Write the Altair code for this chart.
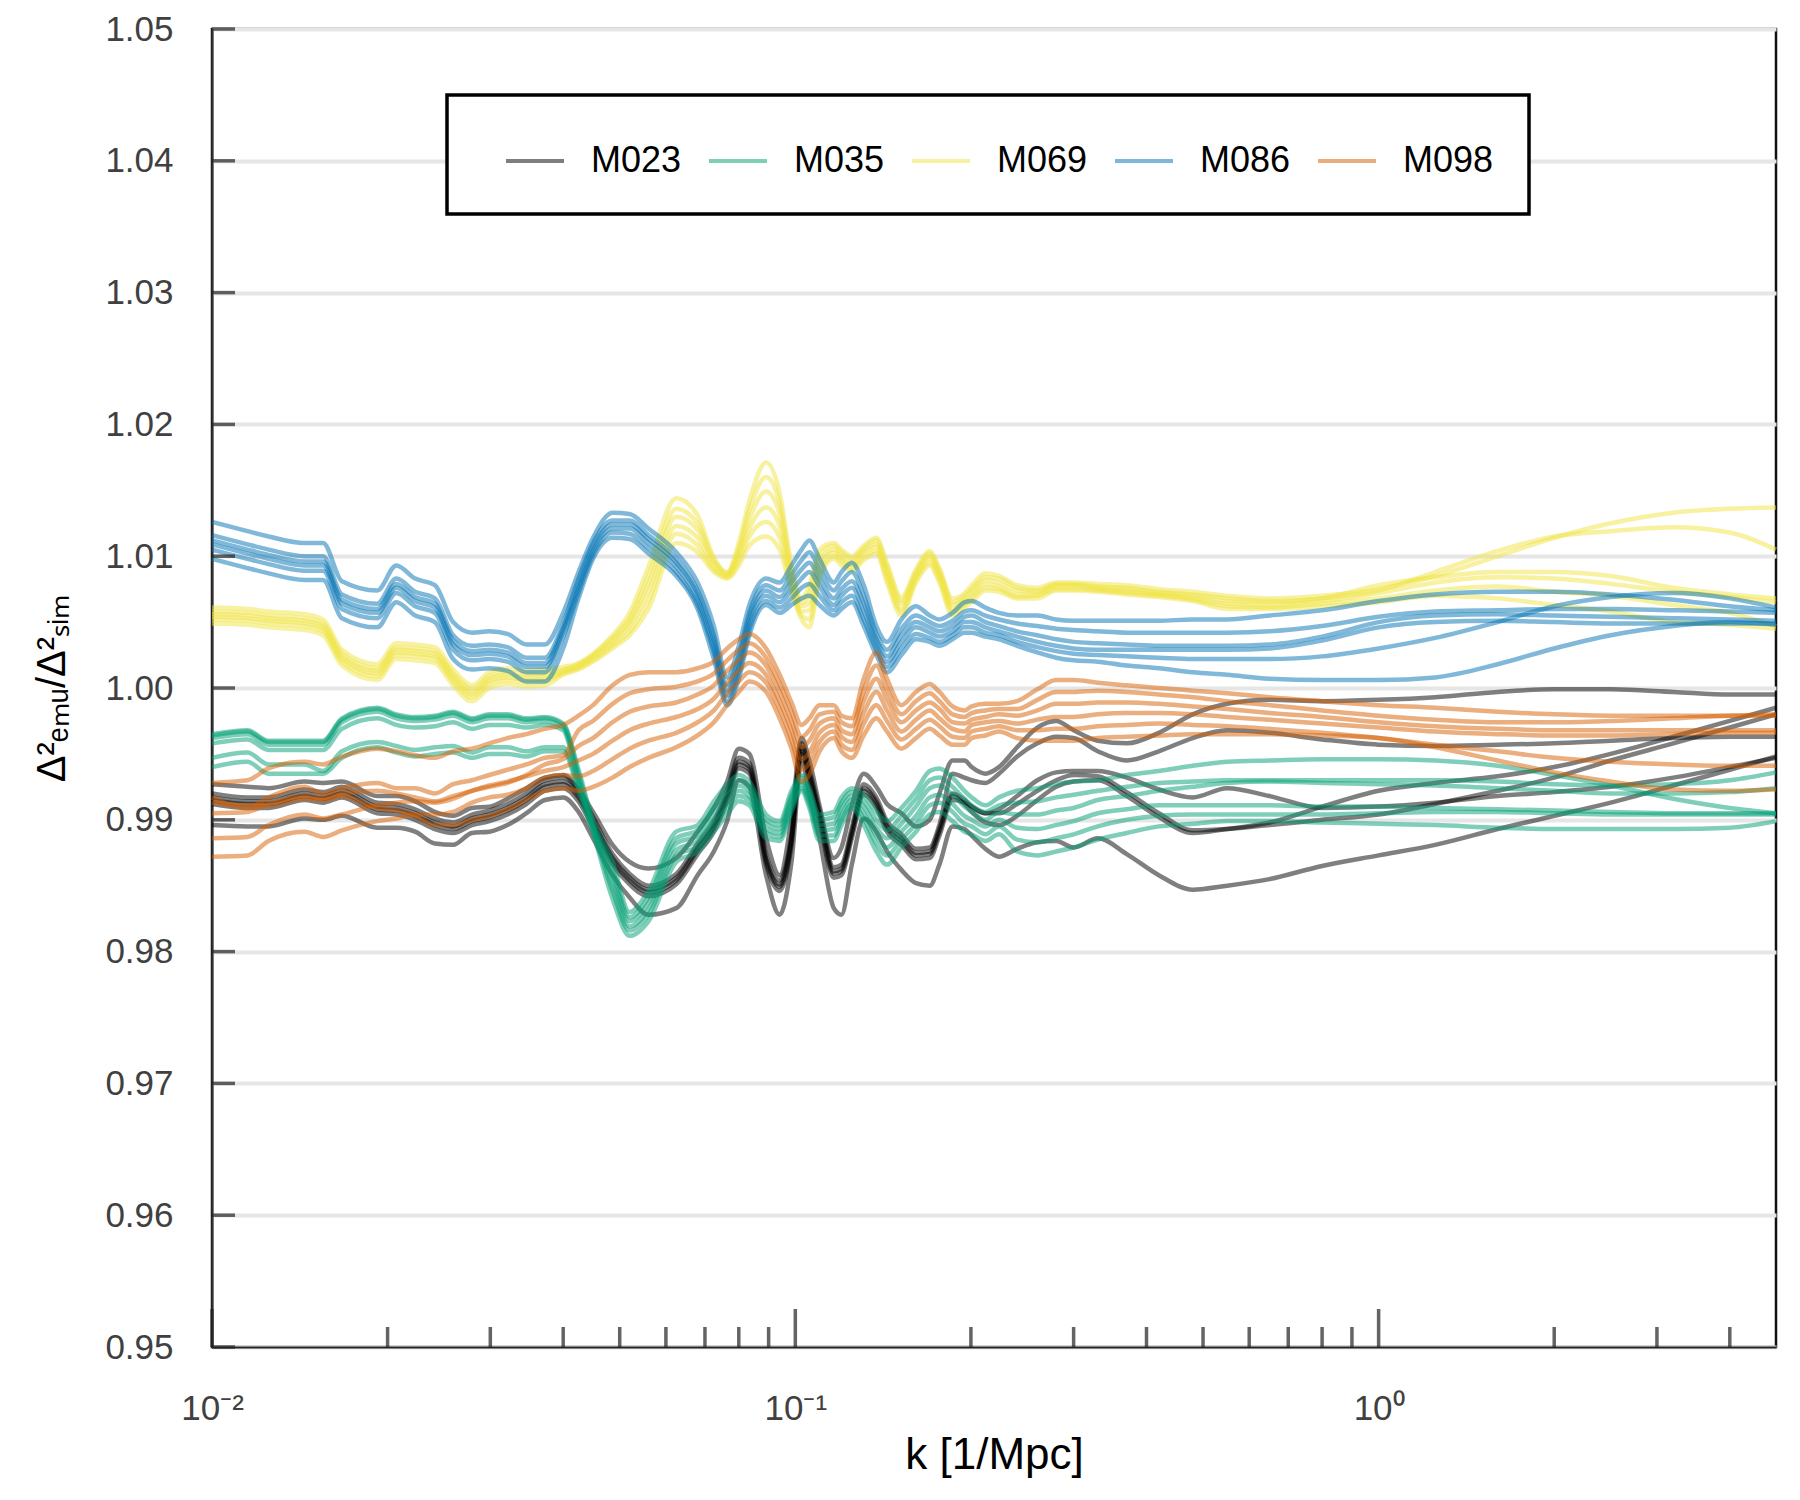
import altair as alt
import pandas as pd

# k grid [1/Mpc]
K = [0.01, 0.0115, 0.0125, 0.0144, 0.0155, 0.0167, 0.0192, 0.0207, 0.0223,
     0.0241, 0.0259, 0.0279, 0.0299, 0.0321, 0.0346, 0.0372, 0.0400,
     0.0425, 0.045, 0.0486, 0.052, 0.056, 0.0625, 0.068, 0.0725, 0.0764,
     0.080, 0.0834, 0.0891, 0.094, 0.0985, 0.1025, 0.1057, 0.110, 0.1164,
     0.120, 0.125, 0.131, 0.1377, 0.1436, 0.152, 0.161, 0.170, 0.1766,
     0.186, 0.195, 0.2006, 0.2117, 0.2234, 0.24, 0.26, 0.28, 0.30,
     0.33, 0.37, 0.42, 0.48, 0.55, 0.65, 0.8, 1.0, 1.25, 1.6, 2.0, 2.5,
     3.2, 4.0, 4.8]

MODELS = ["M023", "M035", "M069", "M086", "M098"]
COLORS = ["#000000", "#009E73", "#F0E442", "#0072B2", "#D55E00"]

# ---------------- M023 ----------------
M023_1 = [0.9927, 0.9925, 0.9924, 0.9929, 0.9928, 0.9929, 0.9918, 0.9918, 0.9914, 0.9906, 0.9903, 0.9909, 0.9910, 0.9916, 0.9924, 0.9932, 0.9934,
          0.9923, 0.9906, 0.9881, 0.9868, 0.9863, 0.9871, 0.9891, 0.9909, 0.9929, 0.9954, 0.9950, 0.9886, 0.9858, 0.9901, 0.9962, 0.9945, 0.9911, 0.9871, 0.9879, 0.9911, 0.9935, 0.9925, 0.9912, 0.9905, 0.9895, 0.9900, 0.9920, 0.9945, 0.9945, 0.9940, 0.9935, 0.9940, 0.9955, 0.9970, 0.9975, 0.9968,
          0.9960, 0.9958, 0.9966, 0.9980, 0.9988, 0.9991, 0.9990, 0.9991, 0.9993, 0.9997, 0.9999, 0.9999, 0.9997, 0.9995, 0.9995]
M023_2 = [0.9920, 0.9917, 0.9917, 0.9923, 0.9921, 0.9925, 0.9913, 0.9912, 0.9908, 0.9901, 0.9898, 0.9904, 0.9907, 0.9912, 0.9920, 0.9930, 0.9932,
          0.9922, 0.9902, 0.9874, 0.9859, 0.9850, 0.9859, 0.9882, 0.9899, 0.9922, 0.9947, 0.9943, 0.9874, 0.9854, 0.9889, 0.9958, 0.9938, 0.9907, 0.9864, 0.9866, 0.9894, 0.9927, 0.9917, 0.9899, 0.9889, 0.9878, 0.9879, 0.9896, 0.9935, 0.9932, 0.9930, 0.9928, 0.9935, 0.9948, 0.9958, 0.9963, 0.9962,
          0.9952, 0.9945, 0.9952, 0.9962, 0.9968, 0.9966, 0.9961, 0.9957, 0.9956, 0.9957, 0.9958, 0.9960, 0.9962, 0.9963, 0.9963]
M023_3 = [0.9917, 0.9914, 0.9914, 0.9920, 0.9918, 0.9922, 0.9910, 0.9909, 0.9905, 0.9898, 0.9895, 0.9901, 0.9904, 0.9909, 0.9917, 0.9927, 0.9929,
          0.9919, 0.9899, 0.9871, 0.9856, 0.9847, 0.9856, 0.9879, 0.9896, 0.9919, 0.9944, 0.9940, 0.9871, 0.9851, 0.9886, 0.9955, 0.9935, 0.9904, 0.9861, 0.9863, 0.9891, 0.9924, 0.9914, 0.9896, 0.9886, 0.9875, 0.9876, 0.9893, 0.9920, 0.9915, 0.9910, 0.9905, 0.9908, 0.9918, 0.9930, 0.9936, 0.9937,
          0.9937, 0.9932, 0.9923, 0.9917, 0.9924, 0.9918, 0.9909, 0.9910, 0.9913, 0.9918, 0.9921, 0.9925, 0.9932, 0.9940, 0.9947]
M023_4 = [0.9915, 0.9912, 0.9912, 0.9918, 0.9916, 0.9920, 0.9908, 0.9907, 0.9903, 0.9896, 0.9893, 0.9899, 0.9902, 0.9907, 0.9915, 0.9925, 0.9927,
          0.9917, 0.9897, 0.9869, 0.9854, 0.9845, 0.9854, 0.9877, 0.9894, 0.9917, 0.9942, 0.9938, 0.9869, 0.9849, 0.9884, 0.9953, 0.9933, 0.9902, 0.9859, 0.9861, 0.9889, 0.9922, 0.9912, 0.9894, 0.9884, 0.9873, 0.9874, 0.9891, 0.9918, 0.9912, 0.9906, 0.9898, 0.9896, 0.9903, 0.9915, 0.9925, 0.9929,
          0.9930, 0.9918, 0.9902, 0.9890, 0.9893, 0.9898, 0.9910, 0.9922, 0.9928, 0.9933, 0.9940, 0.9950, 0.9963, 0.9975, 0.9985]
M023_5 = [0.9912, 0.9909, 0.9909, 0.9915, 0.9913, 0.9917, 0.9905, 0.9904, 0.9900, 0.9893, 0.9890, 0.9896, 0.9899, 0.9904, 0.9912, 0.9922, 0.9924,
          0.9914, 0.9894, 0.9866, 0.9851, 0.9842, 0.9851, 0.9874, 0.9891, 0.9914, 0.9939, 0.9935, 0.9866, 0.9846, 0.9881, 0.9950, 0.9930, 0.9899, 0.9856, 0.9858, 0.9886, 0.9919, 0.9909, 0.9891, 0.9881, 0.9870, 0.9871, 0.9888, 0.9915, 0.9913, 0.9910, 0.9905, 0.9905, 0.9912, 0.9922, 0.9930, 0.9934,
          0.9933, 0.9921, 0.9905, 0.9892, 0.9893, 0.9896, 0.9900, 0.9904, 0.9912, 0.9922, 0.9932, 0.9945, 0.9958, 0.9970, 0.9980]
M023_6 = [0.9896, 0.9895, 0.9895, 0.9901, 0.9900, 0.9903, 0.9894, 0.9894, 0.9891, 0.9882, 0.9881, 0.9890, 0.9891, 0.9896, 0.9905, 0.9915, 0.9917,
          0.9906, 0.9886, 0.9858, 0.9841, 0.9828, 0.9833, 0.9858, 0.9876, 0.9899, 0.9930, 0.9925, 0.9858, 0.9828, 0.9868, 0.9945, 0.9920, 0.9886, 0.9833, 0.9828, 0.9866, 0.9901, 0.9891, 0.9876, 0.9862, 0.9852, 0.9850, 0.9866, 0.9895, 0.9893, 0.9888, 0.9878, 0.9872, 0.9878, 0.9883, 0.9884, 0.9879,
          0.9886, 0.9874, 0.9858, 0.9847, 0.9850, 0.9855, 0.9865, 0.9873, 0.9881, 0.9893, 0.9903, 0.9913, 0.9926, 0.9938, 0.9948]

# ---------------- M035 ----------------
M035_1 = [0.9965, 0.9968, 0.9960, 0.9960, 0.9960, 0.9977, 0.9985, 0.9980, 0.9978, 0.9979, 0.9982, 0.9977, 0.9980, 0.9980, 0.9977, 0.9978, 0.9973,
          0.9938, 0.9899, 0.9868, 0.9830, 0.9846, 0.9891, 0.9896, 0.9914, 0.9927, 0.9934, 0.9929, 0.9904, 0.9899, 0.9922, 0.9934, 0.9924, 0.9904, 0.9906, 0.9917, 0.9924, 0.9919, 0.9906, 0.9899, 0.9909, 0.9922, 0.9937, 0.9939, 0.9932, 0.9922, 0.9917, 0.9911, 0.9917, 0.9922, 0.9924, 0.9927, 0.9929,
          0.9930, 0.9934, 0.9937, 0.9941, 0.9944, 0.9945, 0.9946, 0.9946, 0.9945, 0.9941, 0.9934, 0.9926, 0.9916, 0.9909, 0.9905]
M035_2 = [0.9964, 0.9967, 0.9959, 0.9959, 0.9959, 0.9976, 0.9984, 0.9979, 0.9977, 0.9978, 0.9981, 0.9976, 0.9979, 0.9979, 0.9976, 0.9977, 0.9972,
          0.9935, 0.9897, 0.9862, 0.9826, 0.9841, 0.9886, 0.9892, 0.9909, 0.9922, 0.9930, 0.9925, 0.9900, 0.9896, 0.9919, 0.9932, 0.9921, 0.9900, 0.9902, 0.9913, 0.9921, 0.9914, 0.9900, 0.9892, 0.9903, 0.9916, 0.9930, 0.9932, 0.9925, 0.9916, 0.9911, 0.9906, 0.9911, 0.9913, 0.9914, 0.9917, 0.9919,
          0.9922, 0.9925, 0.9928, 0.9929, 0.9930, 0.9930, 0.9930, 0.9930, 0.9930, 0.9929, 0.9927, 0.9926, 0.9927, 0.9930, 0.9936]
M035_3 = [0.9962, 0.9965, 0.9957, 0.9957, 0.9957, 0.9974, 0.9982, 0.9977, 0.9975, 0.9976, 0.9979, 0.9974, 0.9977, 0.9977, 0.9974, 0.9975, 0.9970,
          0.9932, 0.9895, 0.9857, 0.9823, 0.9837, 0.9882, 0.9888, 0.9905, 0.9918, 0.9926, 0.9922, 0.9897, 0.9893, 0.9916, 0.9929, 0.9918, 0.9896, 0.9897, 0.9909, 0.9918, 0.9910, 0.9894, 0.9886, 0.9897, 0.9910, 0.9924, 0.9926, 0.9919, 0.9910, 0.9906, 0.9900, 0.9906, 0.9904, 0.9904, 0.9907, 0.9909,
          0.9915, 0.9918, 0.9922, 0.9925, 0.9928, 0.9929, 0.9928, 0.9927, 0.9926, 0.9924, 0.9922, 0.9920, 0.9920, 0.9921, 0.9924]
M035_4 = [0.9958, 0.9961, 0.9953, 0.9953, 0.9953, 0.9969, 0.9977, 0.9972, 0.9970, 0.9971, 0.9974, 0.9969, 0.9972, 0.9972, 0.9970, 0.9972, 0.9968,
          0.9928, 0.9894, 0.9851, 0.9819, 0.9832, 0.9877, 0.9884, 0.9900, 0.9913, 0.9922, 0.9918, 0.9893, 0.9890, 0.9912, 0.9927, 0.9915, 0.9892, 0.9893, 0.9904, 0.9915, 0.9905, 0.9888, 0.9879, 0.9891, 0.9903, 0.9917, 0.9919, 0.9912, 0.9903, 0.9900, 0.9895, 0.9900, 0.9894, 0.9893, 0.9896, 0.9899,
          0.9905, 0.9908, 0.9911, 0.9911, 0.9911, 0.9911, 0.9910, 0.9910, 0.9909, 0.9908, 0.9907, 0.9906, 0.9905, 0.9905, 0.9905]
M035_5 = [0.9947, 0.9951, 0.9942, 0.9942, 0.9937, 0.9952, 0.9959, 0.9956, 0.9953, 0.9955, 0.9956, 0.9951, 0.9955, 0.9955, 0.9952, 0.9955, 0.9955,
          0.9925, 0.9892, 0.9846, 0.9816, 0.9828, 0.9873, 0.9880, 0.9896, 0.9909, 0.9918, 0.9915, 0.9890, 0.9887, 0.9909, 0.9924, 0.9912, 0.9888, 0.9888, 0.9900, 0.9912, 0.9901, 0.9882, 0.9873, 0.9885, 0.9897, 0.9911, 0.9913, 0.9906, 0.9897, 0.9895, 0.9889, 0.9895, 0.9885, 0.9883, 0.9886, 0.9889,
          0.9895, 0.9900, 0.9903, 0.9904, 0.9904, 0.9904, 0.9904, 0.9905, 0.9906, 0.9906, 0.9905, 0.9904, 0.9904, 0.9904, 0.9904]
M035_6 = [0.9940, 0.9944, 0.9935, 0.9935, 0.9935, 0.9947, 0.9955, 0.9951, 0.9948, 0.9950, 0.9951, 0.9947, 0.9950, 0.9950, 0.9948, 0.9952, 0.9952,
          0.9922, 0.9890, 0.9840, 0.9812, 0.9823, 0.9868, 0.9876, 0.9891, 0.9904, 0.9914, 0.9911, 0.9886, 0.9884, 0.9906, 0.9922, 0.9909, 0.9884, 0.9884, 0.9896, 0.9909, 0.9896, 0.9876, 0.9866, 0.9879, 0.9891, 0.9904, 0.9906, 0.9899, 0.9891, 0.9889, 0.9884, 0.9889, 0.9876, 0.9873, 0.9876, 0.9879,
          0.9885, 0.9890, 0.9895, 0.9897, 0.9899, 0.9899, 0.9898, 0.9897, 0.9896, 0.9894, 0.9893, 0.9893, 0.9893, 0.9894, 0.9899]

# ---------------- M069 ----------------
M069_1 = [1.0061, 1.0060, 1.0058, 1.0056, 1.0052, 1.0029, 1.0018, 1.0034, 1.0033, 1.0031, 1.0014, 1.0002, 1.0012, 1.0015, 1.0013, 1.0014, 1.0016,
          1.0019, 1.0026, 1.0040, 1.0057, 1.0092, 1.0144, 1.0131, 1.0099, 1.0088, 1.0110, 1.0142, 1.0171, 1.0148, 1.0093, 1.0068, 1.0078, 1.0105, 1.0110, 1.0105, 1.0100, 1.0108, 1.0114, 1.0095, 1.0069, 1.0090, 1.0104, 1.0091, 1.0068, 1.0072, 1.0078, 1.0087, 1.0085, 1.0078, 1.0076, 1.0080, 1.0080,
          1.0079, 1.0078, 1.0075, 1.0073, 1.0070, 1.0068, 1.0070, 1.0075, 1.0085, 1.0100, 1.0114, 1.0125, 1.0133, 1.0136, 1.0137]
M069_2 = [1.0058, 1.0057, 1.0055, 1.0053, 1.0049, 1.0026, 1.0015, 1.0031, 1.0030, 1.0028, 1.0011, 0.9999, 1.0009, 1.0012, 1.0010, 1.0011, 1.0014,
          1.0018, 1.0025, 1.0038, 1.0053, 1.0085, 1.0136, 1.0125, 1.0097, 1.0087, 1.0106, 1.0135, 1.0160, 1.0140, 1.0089, 1.0065, 1.0072, 1.0101, 1.0108, 1.0103, 1.0098, 1.0106, 1.0112, 1.0092, 1.0066, 1.0088, 1.0102, 1.0089, 1.0065, 1.0070, 1.0075, 1.0084, 1.0083, 1.0076, 1.0074, 1.0079, 1.0079,
          1.0077, 1.0076, 1.0073, 1.0071, 1.0068, 1.0066, 1.0068, 1.0074, 1.0088, 1.0104, 1.0115, 1.0119, 1.0122, 1.0118, 1.0105]
M069_3 = [1.0056, 1.0055, 1.0053, 1.0051, 1.0047, 1.0024, 1.0013, 1.0029, 1.0028, 1.0026, 1.0009, 0.9997, 1.0007, 1.0010, 1.0008, 1.0009, 1.0013,
          1.0017, 1.0024, 1.0036, 1.0050, 1.0079, 1.0130, 1.0120, 1.0095, 1.0086, 1.0103, 1.0128, 1.0149, 1.0132, 1.0085, 1.0062, 1.0065, 1.0096, 1.0105, 1.0100, 1.0096, 1.0104, 1.0109, 1.0089, 1.0064, 1.0086, 1.0100, 1.0087, 1.0063, 1.0068, 1.0073, 1.0082, 1.0080, 1.0074, 1.0073, 1.0078, 1.0078,
          1.0076, 1.0075, 1.0072, 1.0070, 1.0066, 1.0065, 1.0068, 1.0078, 1.0084, 1.0088, 1.0088, 1.0085, 1.0076, 1.0071, 1.0068]
M069_4 = [1.0054, 1.0053, 1.0051, 1.0049, 1.0045, 1.0022, 1.0011, 1.0027, 1.0026, 1.0024, 1.0007, 0.9995, 1.0005, 1.0008, 1.0006, 1.0007, 1.0012,
          1.0016, 1.0023, 1.0034, 1.0047, 1.0073, 1.0123, 1.0114, 1.0092, 1.0085, 1.0100, 1.0121, 1.0137, 1.0123, 1.0081, 1.0058, 1.0059, 1.0092, 1.0103, 1.0098, 1.0093, 1.0102, 1.0107, 1.0086, 1.0060, 1.0084, 1.0098, 1.0085, 1.0060, 1.0066, 1.0070, 1.0079, 1.0077, 1.0071, 1.0071, 1.0077, 1.0077,
          1.0075, 1.0073, 1.0071, 1.0068, 1.0064, 1.0063, 1.0066, 1.0072, 1.0080, 1.0084, 1.0083, 1.0079, 1.0073, 1.0069, 1.0065]
M069_5 = [1.0052, 1.0051, 1.0049, 1.0047, 1.0043, 1.0020, 1.0009, 1.0025, 1.0024, 1.0022, 1.0005, 0.9993, 1.0003, 1.0006, 1.0004, 1.0005, 1.0011,
          1.0015, 1.0021, 1.0032, 1.0043, 1.0066, 1.0117, 1.0108, 1.0090, 1.0084, 1.0096, 1.0115, 1.0126, 1.0114, 1.0077, 1.0055, 1.0052, 1.0087, 1.0100, 1.0096, 1.0091, 1.0099, 1.0104, 1.0083, 1.0058, 1.0082, 1.0095, 1.0082, 1.0058, 1.0063, 1.0068, 1.0076, 1.0075, 1.0069, 1.0070, 1.0075, 1.0075,
          1.0074, 1.0072, 1.0070, 1.0067, 1.0062, 1.0061, 1.0064, 1.0068, 1.0074, 1.0077, 1.0073, 1.0070, 1.0063, 1.0057, 1.0047]
M069_6 = [1.0049, 1.0048, 1.0046, 1.0044, 1.0040, 1.0017, 1.0006, 1.0022, 1.0021, 1.0019, 1.0002, 0.9990, 1.0000, 1.0003, 1.0001, 1.0002, 1.0010,
          1.0014, 1.0020, 1.0030, 1.0040, 1.0060, 1.0110, 1.0103, 1.0088, 1.0083, 1.0093, 1.0108, 1.0115, 1.0105, 1.0073, 1.0052, 1.0046, 1.0083, 1.0098, 1.0093, 1.0089, 1.0097, 1.0102, 1.0080, 1.0055, 1.0080, 1.0093, 1.0080, 1.0055, 1.0061, 1.0065, 1.0074, 1.0073, 1.0068, 1.0068, 1.0074, 1.0074,
          1.0073, 1.0071, 1.0069, 1.0066, 1.0060, 1.0060, 1.0062, 1.0065, 1.0070, 1.0068, 1.0063, 1.0058, 1.0050, 1.0048, 1.0045]

# ---------------- M086 ----------------
M086_1 = [1.0126, 1.0119, 1.0115, 1.0110, 1.0110, 1.0081, 1.0074, 1.0093, 1.0083, 1.0078, 1.0050, 1.0042, 1.0043, 1.0041, 1.0033, 1.0033, 1.0057,
          1.0088, 1.0114, 1.0133, 1.0132, 1.0121, 1.0103, 1.0080, 1.0047, 1.0008, 1.0032, 1.0063, 1.0083, 1.0080, 1.0093, 1.0105, 1.0112, 1.0098, 1.0080, 1.0088, 1.0095, 1.0078, 1.0047, 1.0035, 1.0052, 1.0062, 1.0055, 1.0052, 1.0057, 1.0065, 1.0066, 1.0061, 1.0057, 1.0055, 1.0055, 1.0052, 1.0051,
          1.0051, 1.0051, 1.0051, 1.0052, 1.0052, 1.0055, 1.0059, 1.0066, 1.0071, 1.0073, 1.0073, 1.0071, 1.0067, 1.0062, 1.0059]
M086_2 = [1.0116, 1.0109, 1.0105, 1.0100, 1.0100, 1.0071, 1.0064, 1.0083, 1.0073, 1.0068, 1.0040, 1.0032, 1.0033, 1.0031, 1.0023, 1.0023, 1.0049,
          1.0083, 1.0110, 1.0127, 1.0127, 1.0116, 1.0098, 1.0074, 1.0040, 1.0002, 1.0025, 1.0057, 1.0078, 1.0074, 1.0086, 1.0097, 1.0103, 1.0090, 1.0074, 1.0081, 1.0088, 1.0070, 1.0041, 1.0029, 1.0045, 1.0055, 1.0050, 1.0047, 1.0051, 1.0058, 1.0059, 1.0055, 1.0052, 1.0049, 1.0047, 1.0045, 1.0044,
          1.0043, 1.0042, 1.0042, 1.0042, 1.0042, 1.0043, 1.0047, 1.0054, 1.0058, 1.0059, 1.0060, 1.0060, 1.0059, 1.0058, 1.0057]
M086_3 = [1.0112, 1.0105, 1.0101, 1.0096, 1.0096, 1.0067, 1.0060, 1.0079, 1.0069, 1.0064, 1.0036, 1.0028, 1.0029, 1.0027, 1.0019, 1.0019, 1.0046,
          1.0079, 1.0107, 1.0124, 1.0124, 1.0113, 1.0095, 1.0071, 1.0036, 0.9998, 1.0020, 1.0053, 1.0074, 1.0069, 1.0080, 1.0090, 1.0095, 1.0083, 1.0068, 1.0075, 1.0081, 1.0064, 1.0037, 1.0024, 1.0040, 1.0050, 1.0046, 1.0043, 1.0047, 1.0054, 1.0055, 1.0050, 1.0047, 1.0043, 1.0040, 1.0037, 1.0035,
          1.0034, 1.0033, 1.0032, 1.0032, 1.0032, 1.0033, 1.0039, 1.0050, 1.0055, 1.0056, 1.0055, 1.0054, 1.0053, 1.0052, 1.0051]
M086_4 = [1.0109, 1.0102, 1.0098, 1.0093, 1.0093, 1.0064, 1.0057, 1.0076, 1.0066, 1.0061, 1.0033, 1.0025, 1.0026, 1.0024, 1.0016, 1.0016, 1.0043,
          1.0076, 1.0104, 1.0121, 1.0121, 1.0110, 1.0092, 1.0067, 1.0031, 0.9994, 1.0016, 1.0049, 1.0070, 1.0065, 1.0074, 1.0083, 1.0088, 1.0077, 1.0063, 1.0070, 1.0076, 1.0058, 1.0033, 1.0020, 1.0035, 1.0046, 1.0042, 1.0039, 1.0043, 1.0050, 1.0050, 1.0046, 1.0043, 1.0039, 1.0035, 1.0032, 1.0030,
          1.0029, 1.0029, 1.0029, 1.0029, 1.0029, 1.0030, 1.0036, 1.0046, 1.0050, 1.0051, 1.0050, 1.0049, 1.0049, 1.0049, 1.0049]
M086_5 = [1.0105, 1.0098, 1.0094, 1.0089, 1.0089, 1.0060, 1.0053, 1.0072, 1.0062, 1.0057, 1.0029, 1.0021, 1.0022, 1.0020, 1.0012, 1.0012, 1.0039,
          1.0072, 1.0101, 1.0118, 1.0117, 1.0106, 1.0088, 1.0063, 1.0027, 0.9990, 1.0011, 1.0044, 1.0066, 1.0061, 1.0068, 1.0076, 1.0079, 1.0070, 1.0059, 1.0065, 1.0070, 1.0052, 1.0029, 1.0016, 1.0030, 1.0041, 1.0038, 1.0035, 1.0040, 1.0046, 1.0046, 1.0042, 1.0040, 1.0035, 1.0031, 1.0028, 1.0026,
          1.0025, 1.0024, 1.0023, 1.0022, 1.0022, 1.0022, 1.0024, 1.0030, 1.0038, 1.0050, 1.0062, 1.0069, 1.0072, 1.0068, 1.0061]
M086_6 = [1.0098, 1.0091, 1.0087, 1.0082, 1.0082, 1.0053, 1.0046, 1.0065, 1.0055, 1.0050, 1.0022, 1.0014, 1.0015, 1.0013, 1.0005, 1.0005, 1.0030,
          1.0068, 1.0098, 1.0114, 1.0113, 1.0102, 1.0085, 1.0060, 1.0022, 0.9987, 1.0007, 1.0040, 1.0063, 1.0057, 1.0063, 1.0068, 1.0070, 1.0063, 1.0055, 1.0060, 1.0065, 1.0047, 1.0025, 1.0012, 1.0025, 1.0037, 1.0035, 1.0032, 1.0037, 1.0042, 1.0042, 1.0039, 1.0037, 1.0032, 1.0027, 1.0023, 1.0021,
          1.0020, 1.0017, 1.0015, 1.0012, 1.0010, 1.0007, 1.0006, 1.0006, 1.0008, 1.0018, 1.0030, 1.0040, 1.0047, 1.0050, 1.0048]

# ---------------- M098 ----------------
M098_1 = [0.9928, 0.9930, 0.9939, 0.9944, 0.9942, 0.9948, 0.9954, 0.9952, 0.9949, 0.9947, 0.9952, 0.9954, 0.9958, 0.9962, 0.9965, 0.9969, 0.9972,
          0.9979, 0.9987, 1.0002, 1.0010, 1.0012, 1.0012, 1.0015, 1.0020, 1.0030, 1.0037, 1.0041, 1.0030, 1.0010, 0.9989, 0.9972, 0.9977, 0.9987, 0.9987, 0.9979, 0.9977, 1.0007, 1.0027, 1.0007, 0.9987, 0.9997, 1.0003, 0.9997, 0.9986, 0.9983, 0.9986, 0.9988, 0.9988, 0.9990, 0.9999, 1.0006, 1.0006,
          1.0004, 1.0002, 1.0000, 0.9998, 0.9996, 0.9993, 0.9990, 0.9987, 0.9985, 0.9982, 0.9980, 0.9979, 0.9979, 0.9979, 0.9979]
M098_2 = [0.9917, 0.9909, 0.9917, 0.9925, 0.9920, 0.9924, 0.9928, 0.9924, 0.9924, 0.9920, 0.9927, 0.9930, 0.9934, 0.9938, 0.9942, 0.9947, 0.9949,
          0.9968, 0.9975, 0.9988, 0.9996, 0.9999, 1.0001, 1.0005, 1.0011, 1.0021, 1.0029, 1.0034, 1.0023, 1.0003, 0.9982, 0.9963, 0.9968, 0.9980, 0.9982, 0.9974, 0.9971, 0.9998, 1.0017, 0.9999, 0.9980, 0.9990, 0.9996, 0.9990, 0.9980, 0.9978, 0.9981, 0.9983, 0.9984, 0.9984, 0.9991, 0.9997, 0.9997,
          0.9998, 0.9997, 0.9995, 0.9993, 0.9990, 0.9987, 0.9983, 0.9979, 0.9976, 0.9974, 0.9974, 0.9975, 0.9977, 0.9979, 0.9980]
M098_3 = [0.9913, 0.9911, 0.9911, 0.9916, 0.9915, 0.9918, 0.9909, 0.9907, 0.9903, 0.9896, 0.9896, 0.9900, 0.9903, 0.9908, 0.9915, 0.9922, 0.9924,
          0.9922, 0.9925, 0.9932, 0.9940, 0.9947, 0.9955, 0.9964, 0.9974, 0.9987, 0.9997, 1.0005, 0.9997, 0.9977, 0.9954, 0.9929, 0.9934, 0.9952, 0.9962, 0.9952, 0.9947, 0.9964, 0.9977, 0.9967, 0.9954, 0.9962, 0.9969, 0.9964, 0.9957, 0.9957, 0.9962, 0.9964, 0.9967, 0.9962, 0.9960, 0.9960, 0.9960,
          0.9962, 0.9963, 0.9964, 0.9965, 0.9965, 0.9965, 0.9964, 0.9962, 0.9955, 0.9945, 0.9936, 0.9929, 0.9923, 0.9922, 0.9923]
M098_4 = [0.9905, 0.9906, 0.9912, 0.9918, 0.9916, 0.9920, 0.9922, 0.9920, 0.9917, 0.9914, 0.9918, 0.9922, 0.9926, 0.9929, 0.9933, 0.9937, 0.9940,
          0.9945, 0.9950, 0.9960, 0.9968, 0.9973, 0.9978, 0.9984, 0.9992, 1.0004, 1.0013, 1.0019, 1.0010, 0.9990, 0.9968, 0.9946, 0.9951, 0.9966, 0.9972, 0.9963, 0.9959, 0.9981, 0.9997, 0.9983, 0.9967, 0.9976, 0.9983, 0.9977, 0.9969, 0.9967, 0.9972, 0.9974, 0.9975, 0.9973, 0.9976, 0.9978, 0.9978,
          0.9980, 0.9981, 0.9981, 0.9980, 0.9978, 0.9976, 0.9973, 0.9970, 0.9967, 0.9965, 0.9964, 0.9964, 0.9965, 0.9966, 0.9966]
M098_5 = [0.9886, 0.9887, 0.9896, 0.9904, 0.9901, 0.9904, 0.9911, 0.9913, 0.9914, 0.9913, 0.9916, 0.9922, 0.9925, 0.9928, 0.9934, 0.9942, 0.9946,
          0.9956, 0.9962, 0.9974, 0.9982, 0.9986, 0.9989, 0.9995, 1.0002, 1.0013, 1.0021, 1.0027, 1.0017, 0.9997, 0.9975, 0.9955, 0.9960, 0.9973, 0.9977, 0.9968, 0.9965, 0.9990, 1.0007, 0.9991, 0.9974, 0.9983, 0.9989, 0.9984, 0.9974, 0.9973, 0.9976, 0.9978, 0.9980, 0.9979, 0.9983, 0.9988, 0.9988,
          0.9989, 0.9989, 0.9988, 0.9986, 0.9984, 0.9981, 0.9978, 0.9974, 0.9971, 0.9969, 0.9968, 0.9968, 0.9968, 0.9968, 0.9968]
M098_6 = [0.9872, 0.9873, 0.9884, 0.9891, 0.9887, 0.9892, 0.9899, 0.9901, 0.9904, 0.9904, 0.9906, 0.9913, 0.9917, 0.9919, 0.9924, 0.9932, 0.9934,
          0.9933, 0.9937, 0.9946, 0.9954, 0.9960, 0.9966, 0.9974, 0.9983, 0.9996, 1.0005, 1.0012, 1.0004, 0.9984, 0.9961, 0.9938, 0.9943, 0.9959, 0.9967, 0.9957, 0.9953, 0.9973, 0.9987, 0.9975, 0.9961, 0.9969, 0.9976, 0.9971, 0.9963, 0.9962, 0.9967, 0.9969, 0.9971, 0.9968, 0.9968, 0.9969, 0.9969,
          0.9971, 0.9972, 0.9973, 0.9972, 0.9971, 0.9969, 0.9966, 0.9962, 0.9957, 0.9952, 0.9947, 0.9944, 0.9942, 0.9941, 0.9941]

SERIES = {
    "M023": [M023_1, M023_2, M023_3, M023_4, M023_5, M023_6],
    "M035": [M035_1, M035_2, M035_3, M035_4, M035_5, M035_6],
    "M069": [M069_1, M069_2, M069_3, M069_4, M069_5, M069_6],
    "M086": [M086_1, M086_2, M086_3, M086_4, M086_5, M086_6],
    "M098": [M098_1, M098_2, M098_3, M098_4, M098_5, M098_6],
}

# axis tick positions / labels
X_LABEL_TICKS = [0.01, 0.1, 1.0]
X_MINOR_TICKS = [0.02, 0.03, 0.04, 0.05, 0.06, 0.07, 0.08, 0.09,
                 0.2, 0.3, 0.4, 0.5, 0.6, 0.7, 0.8, 0.9, 2.0, 3.0, 4.0]
Y_TICKS = [0.95, 0.96, 0.97, 0.98, 0.99, 1.00, 1.01, 1.02, 1.03, 1.04, 1.05]

rows = []
for model, lines in SERIES.items():
    for i, ys in enumerate(lines):
        if len(ys) != len(K):
            raise ValueError(f"{model} line {i+1}: {len(ys)} values, expected {len(K)}")
        for k, v in zip(K, ys):
            rows.append({"k": k, "v": v, "model": model, "line": f"{model}_{i+1}"})
df = pd.DataFrame(rows)

W, H = 1564, 1318
FONT = "Liberation Sans"

xscale = alt.Scale(type="log", domain=[0.01, 4.8], nice=False)
yscale = alt.Scale(domain=[0.95, 1.05], nice=False, zero=False)

x_axis = alt.Axis(
    values=X_LABEL_TICKS,
    labelExpr="datum.value < 0.05 ? '10⁻²' : (datum.value < 0.5 ? '10⁻¹' : '10⁰')",
    title="k [1/Mpc]", grid=False, ticks=False, tickSize=0,
    domainColor="#222222", domainWidth=2,
    labelFont=FONT, labelFontSize=35, labelColor="#404040", labelPadding=44,
    labelFlush=False,
    titleFont=FONT, titleFontSize=44, titleFontWeight="normal",
    titleColor="#000000", titlePadding=7,
)
y_axis = alt.Axis(
    values=Y_TICKS, format=".2f", title="Δ²ₑₘᵤ/Δ²ₛᵢₘ",
    grid=True, gridColor="#e6e6e6", gridWidth=4,
    ticks=False, tickSize=0, domainColor="#333333", domainWidth=2,
    labelFont=FONT, labelFontSize=35, labelColor="#404040", labelPadding=39,
    titleFont=FONT, titleFontSize=40, titleFontWeight="normal",
    titleColor="#000000", titlePadding=32,
)

legend = alt.Legend(
    title=None, orient="none", legendX=235, legendY=66,
    direction="horizontal", columns=5,
    symbolType="stroke", symbolSize=3364, symbolStrokeWidth=4,
    symbolOpacity=0.5, symbolOffset=22,
    labelFont=FONT, labelFontSize=36, labelColor="#000000",
    labelOffset=25, columnPadding=3, padding=35,
    strokeColor="#000000", fillColor="#ffffff",
)

lines = alt.Chart(df).mark_line(
    strokeWidth=4.5, opacity=0.5, interpolate="monotone"
).encode(
    x=alt.X("k:Q", scale=xscale, axis=x_axis),
    y=alt.Y("v:Q", scale=yscale, axis=y_axis),
    color=alt.Color("model:N", scale=alt.Scale(domain=MODELS, range=COLORS),
                    legend=legend),
    detail="line:N",
)

ytick = alt.Chart(pd.DataFrame({"v": Y_TICKS})).mark_tick(
    orient="horizontal", size=23, thickness=3.5, color="#222222"
).encode(
    y=alt.Y("v:Q", scale=yscale, axis=y_axis),
    x=alt.value(11.5),
)

xmaj = alt.Chart(pd.DataFrame({"k": X_LABEL_TICKS})).mark_tick(
    orient="vertical", size=38, thickness=3.5, color="#222222"
).encode(
    x=alt.X("k:Q", scale=xscale, axis=x_axis),
    y=alt.value(H - 19),
)

xmin = alt.Chart(pd.DataFrame({"k": X_MINOR_TICKS})).mark_tick(
    orient="vertical", size=20, thickness=3.5, color="#222222"
).encode(
    x=alt.X("k:Q", scale=xscale, axis=x_axis),
    y=alt.value(H - 10),
)

chart = alt.layer(lines, ytick, xmaj, xmin).properties(
    width=W, height=H,
    autosize=alt.AutoSizeParams(type="none"),
    padding={"left": 204, "top": 21, "right": 16, "bottom": 138},
    background="#ffffff",
).configure_view(
    stroke="#111111", strokeWidth=2.5
).configure_legend(
    strokeWidth=3.5
)

chart.save("out.html", embed_options={"renderer": "svg", "actions": False})
